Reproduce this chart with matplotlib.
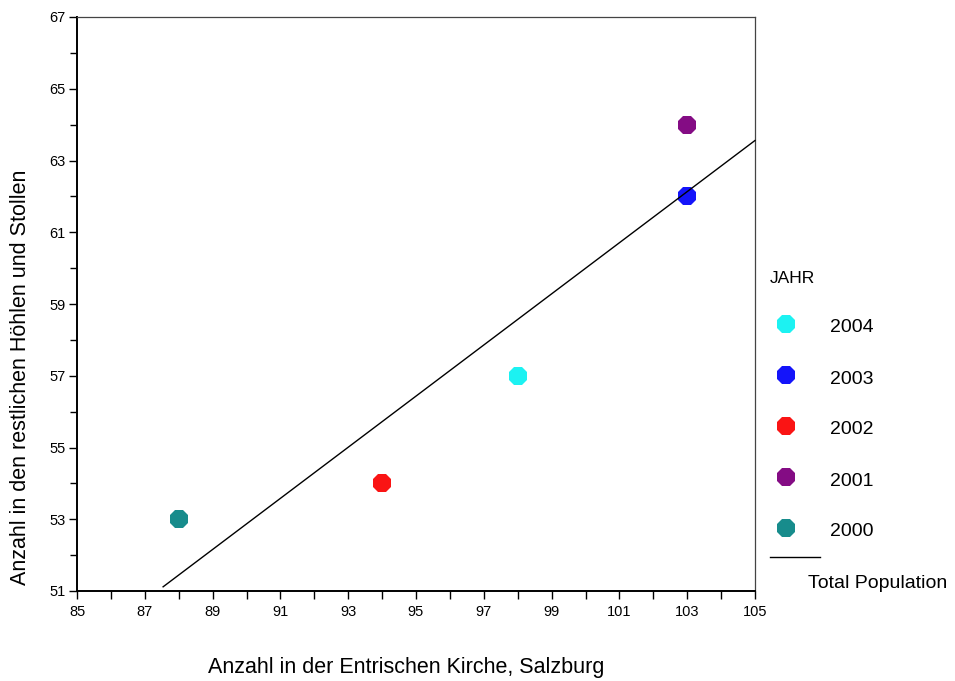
import matplotlib
matplotlib.use("Agg")
import matplotlib.pyplot as plt
import numpy as np
from matplotlib.lines import Line2D

plt.rcParams['font.family'] = ['Liberation Sans', 'DejaVu Sans']

years = ['2004', '2003', '2002', '2001', '2000']
x_vals = [98, 103, 94, 103, 88]
y_vals = [57, 62, 54, 64, 53]
colors = ['#1CF2F2', '#1414FA', '#FA1414', '#840C84', '#178C8C']
x_ticks = [85, 87, 89, 91, 93, 95, 97, 99, 101, 103, 105]
y_ticks = [51, 53, 55, 57, 59, 61, 63, 65, 67]

fig = plt.figure(figsize=(9.55, 6.81), dpi=100)
ax = fig.add_axes([77/955, 1-591/681, (755-77)/955, (591-17)/681])

for xv, yv, c in zip(x_vals, y_vals, colors):
    ax.plot([xv], [yv], marker='8', markersize=14.5, color=c, markeredgewidth=0, linestyle='none', zorder=3)

slope, intercept = np.polyfit(x_vals, y_vals, 1)
xl = np.array([87.54, 105])
ax.plot(xl, slope*xl + intercept, color='black', linewidth=1.0, zorder=4, clip_on=False)

ax.set_xlim(85, 105)
ax.set_ylim(51, 67)
ax.set_xticks(x_ticks)
ax.set_yticks(y_ticks)
ax.set_xticks(np.arange(86, 105, 2), minor=True)
ax.set_yticks(np.arange(52, 67, 2), minor=True)
ax.tick_params(axis='both', which='major', direction='out', length=6, width=1, labelsize=10.5, pad=2)
ax.tick_params(axis='x', which='minor', direction='out', length=6, width=1)
ax.tick_params(axis='y', which='minor', direction='out', length=5, width=1)
ax.tick_params(axis='x', pad=4)
for s in ['left', 'bottom']:
    ax.spines[s].set_linewidth(1.4)
    ax.spines[s].set_color('black')
for s in ['top', 'right']:
    ax.spines[s].set_linewidth(0.9)
    ax.spines[s].set_color('#444444')

fig.text(406/955, 1-667/681, 'Anzahl in der Entrischen Kirche, Salzburg', ha='center', va='center', fontsize=15.5)
fig.text(21/955, 1-377/681, 'Anzahl in den restlichen Höhlen und Stollen', ha='center', va='center', fontsize=15.5, rotation=90)

# legend
fig.text(770/955, 1-278/681, 'JAHR', ha='left', va='center', fontsize=12.5)
leg_y = [324, 375, 426, 477, 528]
for yy, lab, c in zip(leg_y, years, colors):
    fig.add_artist(Line2D([786/955], [1-yy/681], marker='8', markersize=14.5, color=c,
                          markeredgewidth=0, linestyle='none', transform=fig.transFigure))
    fig.text(830/955, 1-(yy+4)/681, lab, ha='left', va='center', fontsize=14)
fig.add_artist(Line2D([770/955, 820/955], [1-557/681, 1-557/681], color='black', linewidth=1.0,
                      transform=fig.transFigure))
fig.text(808/955, 1-583/681, 'Total Population', ha='left', va='center', fontsize=14)

fig.savefig('out.png', dpi=100)
